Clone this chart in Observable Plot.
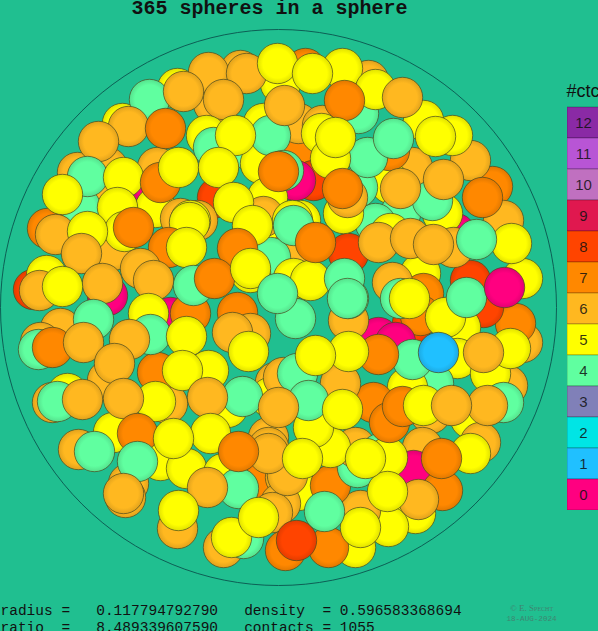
<!DOCTYPE html>
<html><head><meta charset="utf-8">
<script src="https://cdn.jsdelivr.net/npm/d3@7"></script>
<script src="https://cdn.jsdelivr.net/npm/@observablehq/plot@0.6"></script>
<style>
html,body{margin:0;padding:0;background:#20bf90;overflow:hidden;width:598px;height:631px}
#root{position:relative;width:598px;height:631px;overflow:hidden}
#root svg{position:absolute;overflow:hidden;background:transparent}
</style></head><body><div id="root"></div>
<script>
const ctcLevels=[12,11,10,9,8,7,6,5,4,3,2,1,0];
const ctcColors=["#ff0080","#20c0ff","#00e5e5","#8080b8","#60ffa0","#ffff00","#ffb820","#ff8800","#ff4400","#e0184f","#c070c0","#b855d5","#8a2aa5"];
const plotTitle="365 spheres in a sphere";
const statLines=["radius =   0.117794792790   density  = 0.596583368694","ratio  =   8.489339607590   contacts = 1055"];
const credit=["© E. Specht","18-AUG-2024"];
const container=[[278,307]];
// [x, y, contacts], back to front
const layerBack=[
[240,70,6],[305,68,7],[177,88,5],[213,103,6],[280,83,5],[368,80,6],[358,113,4],[263,123,5],[122,123,5],[107,167,6],[77,172,6],[300,147,7],[298,123,6],[250,150,4],[260,163,5],
[150,185,0],[157,167,6],[322,125,6],[321,133,5],[313,180,8],[295,180,0],[217,197,8],[300,220,5],[100,203,6],[80,207,4],[267,197,5],[155,207,5],[197,220,6],[180,218,6],[190,220,5],
[263,237,5],[47,228,7],[305,240,7],[263,216,6],[33,289,8],[46,275,5],[112,250,6],[293,247,6],[270,257,4],[250,272,5],[292,220,5],[107,295,0],[60,328,6],[40,342,6],[38,349,4],
[170,317,0],[190,313,7],[420,273,5],[423,293,7],[470,280,8],[522,278,5],[492,186,7],[503,220,6],[455,233,0],[470,160,6],[452,135,5],[423,120,5],[412,167,6],[442,213,5],[390,183,5],[400,213,4],[375,223,4],[390,233,5],[348,253,8],
[343,213,5],[357,187,4],[347,197,6],[389,150,7],[367,157,4],[52,402,6],[67,393,5],[57,401,4],[107,380,6],[113,432,5],[78,449,6],[128,483,6],[125,497,6],[160,460,5],[167,403,6],[157,372,7],[208,370,5],[275,382,6],[227,407,5],[270,397,5],
[268,437,6],[268,447,6],[263,478,7],[285,477,6],[298,490,5],[280,503,6],[186,468,5],[223,473,5],[238,488,4],[177,528,6],[223,547,6],[243,538,4],[272,512,6],[285,550,7],
[522,342,6],[515,323,7],[483,307,8],[460,327,5],[412,323,8],[420,315,7],[445,317,5],[378,337,0],[395,342,0],[457,358,5],[507,385,6],[490,373,5],[433,383,4],[407,387,5],[430,413,6],[470,418,5],[480,442,6],[422,447,6],[413,470,0],[442,490,7],[415,513,5],[388,526,5],[355,547,5],[328,547,7],[360,510,6],[330,485,7],[357,467,4],[287,475,6],[355,447,6],[380,453,4],[387,457,5],[330,447,5],[313,427,5],[373,402,7],[340,383,6],[283,377,6],[297,373,4],[348,320,6],[295,318,4],[348,298,4],[392,282,6],[400,298,4]
];
const layerMiddle=[
[208,72,6],[246,73,6],[277,63,5],[342,68,5],[149,99,4],[183,91,6],[223,99,6],[128,126,6],[98,141,6],[375,89,5],[402,97,6],[206,135,5],[213,147,4],[270,135,4],[235,135,5],[284,105,6],[344,100,7],[312,73,5],
[435,136,5],[393,138,4],[330,158,5],[335,137,5],[165,128,7],[87,176,4],[123,177,5],[62,194,5],[160,182,7],[178,167,5],[218,167,5],[283,170,4],[278,171,7],[117,207,5],[233,202,5],[189,222,5],[124,231,5],[133,227,7],[55,234,6],[87,231,5],[252,225,5],
[81,253,6],[168,247,7],[237,248,7],[186,247,5],[140,268,6],[153,280,6],[193,285,4],[214,278,7],[250,268,5],[293,278,5],[310,280,5],[277,293,4],[293,225,4],[39,290,6],[102,283,6],[62,286,5],
[432,200,4],[443,179,6],[482,197,7],[400,188,6],[342,188,7],[378,242,6],[410,238,6],[453,247,6],[433,244,6],[315,242,7],[511,243,5],[476,239,4],[344,278,4],[347,298,4],[409,298,5],[466,297,4],[504,287,0]
];
const layerFront=[
[93,319,4],[148,313,5],[237,312,7],[150,334,4],[250,333,6],[232,332,6],[52,347,7],[83,342,6],[129,339,6],[114,363,6],[186,336,5],[182,370,5],[248,351,5],[155,401,5],[82,399,6],[123,398,6],[242,396,4],[207,397,6],[308,400,4],[278,407,6],[137,433,7],[210,433,5],[173,438,5],[94,451,4],[268,453,6],[238,451,7],[137,461,4],[302,458,5],[207,487,6],[123,493,6],[178,510,5],[231,537,5],[258,517,5],[296,540,8],
[510,348,5],[483,352,6],[412,359,4],[438,352,1],[378,354,7],[348,351,5],[315,355,5],[342,409,5],[389,422,7],[402,406,7],[423,405,5],[503,402,4],[487,405,6],[451,405,6],[470,453,5],[441,458,7],[418,499,6],[387,491,5],[365,458,5],[360,527,5],[324,511,4]
];
const spheres=[...layerBack,...layerMiddle,...layerFront];
const gradUrls=ctcColors.map((_,i)=>`url(#ctc${i})`);
const page=Plot.plot({
  width:598,height:631,margin:0,
  x:{domain:[0,598],range:[0,598],axis:null},
  y:{domain:[0,631],range:[0,631],axis:null},
  color:{type:"ordinal",domain:ctcColors.map((_,i)=>i),range:gradUrls},
  style:{background:"transparent",whiteSpace:"pre"},
  marks:[
    Plot.dot(container,{x:d=>d[0],y:d=>d[1],r:278,fill:"none",stroke:"#0d5f55",strokeWidth:1}),
    Plot.dot(spheres,{x:d=>d[0],y:d=>d[1],r:20.2,fill:d=>d[2],stroke:"#4a4a20",strokeOpacity:0.7,strokeWidth:1}),
    Plot.text([plotTitle],{x:269,y:7,text:d=>d,fontFamily:"Liberation Mono",fontWeight:"bold",fontSize:20,fill:"#111"}),
    Plot.text(statLines,{x:0,y:(d,i)=>[609.5,626.5][i],text:d=>d,textAnchor:"start",fontFamily:"Liberation Mono",fontSize:14.5,fill:"#111"}),
    Plot.text([credit[0]],{x:531,y:608,text:d=>d,fontFamily:"Liberation Serif",fontVariant:"small-caps",fontSize:9,fill:"#3f8570"}),
    Plot.text([credit[1]],{x:531,y:618,text:d=>d,fontFamily:"Liberation Mono",fontSize:7.6,fill:"#3f8570"}),
    Plot.text(["#ctc"],{x:566,y:91,text:d=>d,textAnchor:"start",fontFamily:"Liberation Sans",fontSize:18,fill:"#111"})
  ]
});
const defs=d3.select(page).insert("defs",":first-child");
ctcColors.forEach((c,i)=>{
  const g=defs.append("radialGradient").attr("id",`ctc${i}`).attr("cx","50%").attr("cy","50%").attr("r","50%");
  g.append("stop").attr("offset","0%").attr("stop-color",c);
  g.append("stop").attr("offset","72%").attr("stop-color",c);
  g.append("stop").attr("offset","100%").attr("stop-color",d3.color(c).darker(0.35).formatHex());
});
page.style.left="0";page.style.top="0";
const legend=Plot.plot({
  width:32,height:404,margin:0,
  x:{axis:null},
  y:{type:"band",domain:ctcLevels,padding:0,axis:null},
  color:{type:"ordinal",domain:ctcColors.map((_,i)=>i),range:ctcColors},
  style:{background:"transparent"},
  marks:[
    Plot.cell(ctcLevels,{y:d=>d,fill:d=>d,stroke:"#000",strokeOpacity:0.25,inset:0}),
    Plot.text(ctcLevels,{y:d=>d,text:d=>String(d),frameAnchor:"middle",fontFamily:"Liberation Sans",fontSize:15,fill:"#111",fillOpacity:.85})
  ]
});
legend.style.left="567px";legend.style.top="106px";
document.getElementById("root").append(page,legend);
</script></body></html>
